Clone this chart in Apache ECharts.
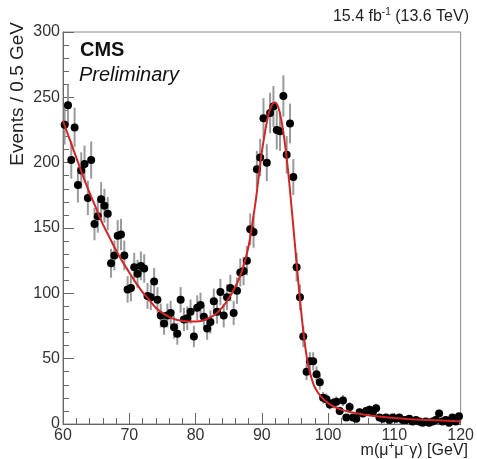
<!DOCTYPE html>
<html>
<head>
<meta charset="utf-8">
<script src="https://cdn.jsdelivr.net/npm/echarts/dist/echarts.min.js"></script>
<style>
html, body { margin: 0; background: #fff; }
#chart { width: 477px; height: 459px; }
</style>
</head>
<body>
<div id="chart"></div>
<script>
// binning: 0.5 GeV bins from 60 to 120
const binLow = 60;
const binWidth = 0.5;

// events per bin
const counts = [
    229, 244, 202, 227, 183, 194, 199, 173, 202, 153,
    159, 172, 167, 161, 123, 129, 144, 145, 129, 103,
    104, 120, 115, 121, 119, 98, 97, 109, 95, 83,
    77, 83, 85, 74, 69, 95, 80, 81, 86, 67,
    89, 91, 82, 73, 78, 94, 86, 101, 83, 97,
    104, 85, 102, 116, 117, 125, 149, 147, 195, 204,
    234, 200, 238, 243, 225, 224, 251, 206, 230, 189,
    120, 97, 67, 40, 48, 48, 38, 32, 20, 19,
    15, 16, 17, 10, 18, 5, 13, 5, 4, 9,
    8, 10, 11, 9, 12, 5, 4, 5, 3, 5,
    4, 5, 3, 3, 4, 2, 3, 2, 1, 2,
    1, 2, 3, 8, 2, 3, 1, 5, 2, 6
];

// fit curve, sampled off the plot
const fitMass = [60, 61, 62, 63, 64, 65, 66, 67, 68, 69, 70, 71, 72, 73, 74, 75, 76, 77, 78, 79,
    80, 81, 82, 83, 84, 85, 86, 87, 88, 89, 89.5, 90, 90.5, 91, 91.5, 92, 92.5, 93, 93.5, 94,
    94.5, 95, 95.5, 96, 96.5, 97, 97.5, 98, 99, 100, 101, 102, 103, 104, 105, 106, 108, 110,
    112, 114, 116, 118, 120];
const fitEvents = [232, 218, 204, 190, 177, 165, 153, 143, 133, 124, 116, 108, 101, 95, 89, 85, 82, 80, 79, 78.5,
    78.5, 79, 81, 84, 89, 96, 105, 117, 136, 168, 188, 208, 224, 237, 244, 246, 242, 231, 214, 192,
    165, 137, 109, 83, 61, 45, 35, 28, 20.5, 16, 13, 11, 9.5, 8.5, 7.5, 6.7, 5.5, 4.5,
    3.8, 3.2, 2.8, 2.4, 2];

const points = counts.map((n, i) => [binLow + binWidth * (i + 0.5), n]);
const errors = points.map(p => [p[0], p[1] - Math.sqrt(p[1]), p[1] + Math.sqrt(p[1])]);
const fitLine = fitMass.map((m, i) => [m, fitEvents[i]]);

const font = '"Liberation Sans", Arial, Helvetica, sans-serif';
const axisGray = '#666';

const chart = echarts.init(document.getElementById('chart'));
chart.setOption({
    animation: false,
    backgroundColor: '#fff',
    grid: {
        left: 63, right: 9, top: 32, bottom: 35,
        show: true, borderColor: '#888', borderWidth: 1
    },
    xAxis: {
        type: 'value',
        min: 60, max: 120, interval: 10,
        axisLine: { lineStyle: { color: axisGray, width: 1 } },
        axisTick: { inside: true, length: 11, lineStyle: { color: axisGray } },
        minorTick: { show: true, splitNumber: 5, length: 6, lineStyle: { color: axisGray } },
        splitLine: { show: false },
        axisLabel: { margin: 4, fontSize: 16, color: '#333', fontFamily: font }
    },
    yAxis: {
        type: 'value',
        min: 0, max: 300, interval: 50,
        axisLine: { show: true, lineStyle: { color: axisGray, width: 1 } },
        axisTick: { show: true, inside: true, length: 11, lineStyle: { color: axisGray } },
        minorTick: { show: true, splitNumber: 5, length: 6, lineStyle: { color: axisGray } },
        splitLine: { show: false },
        axisLabel: { margin: 3, fontSize: 16, color: '#333', fontFamily: font }
    },
    series: [
        {
            type: 'custom',
            data: errors,
            z: 2,
            renderItem: (params, api) => {
                const lo = api.coord([api.value(0), api.value(1)]);
                const hi = api.coord([api.value(0), api.value(2)]);
                return {
                    type: 'line',
                    shape: { x1: lo[0], y1: lo[1], x2: hi[0], y2: hi[1] },
                    style: { stroke: '#9a9a9a', lineWidth: 2 }
                };
            }
        },
        {
            type: 'scatter',
            data: points,
            symbol: 'circle',
            symbolSize: 8,
            itemStyle: { color: '#000', opacity: 1 },
            z: 3
        },
        {
            type: 'line',
            data: fitLine,
            smooth: 0.3,
            showSymbol: false,
            lineStyle: { color: '#d42424', width: 2 },
            z: 4
        }
    ],
    graphic: [
        {
            type: 'text', left: 80, top: 40,
            style: { text: 'CMS', font: 'bold 20px ' + font, fill: '#111' }
        },
        {
            type: 'text', left: 79, top: 65,
            style: { text: 'Preliminary', font: 'italic 20px ' + font, fill: '#111' }
        },
        {
            type: 'text', right: 8, top: 7,
            style: {
                text: '{n|15.4 fb}{s|-1}{n| (13.6 TeV)}',
                rich: {
                    n: { fontSize: 16, fontFamily: font, fill: '#222', lineHeight: 20 },
                    s: { fontSize: 10, fontFamily: font, fill: '#222', lineHeight: 12, verticalAlign: 'top' }
                }
            }
        },
        {
            type: 'text', x: 18, y: 22, rotation: Math.PI / 2,
            style: {
                text: 'Events / 0.5 GeV', font: '19px ' + font, fill: '#222',
                align: 'right', verticalAlign: 'middle'
            }
        },
        {
            type: 'text', right: 9, top: 441,
            style: {
                text: '{n|m(μ}{s|+}{n|μ}{s|−}{n|γ) [GeV]}',
                rich: {
                    n: { fontSize: 16, fontFamily: font, fill: '#222', lineHeight: 20 },
                    s: { fontSize: 10, fontFamily: font, fill: '#222', lineHeight: 12, verticalAlign: 'top' }
                }
            }
        }
    ]
});
</script>
</body>
</html>
